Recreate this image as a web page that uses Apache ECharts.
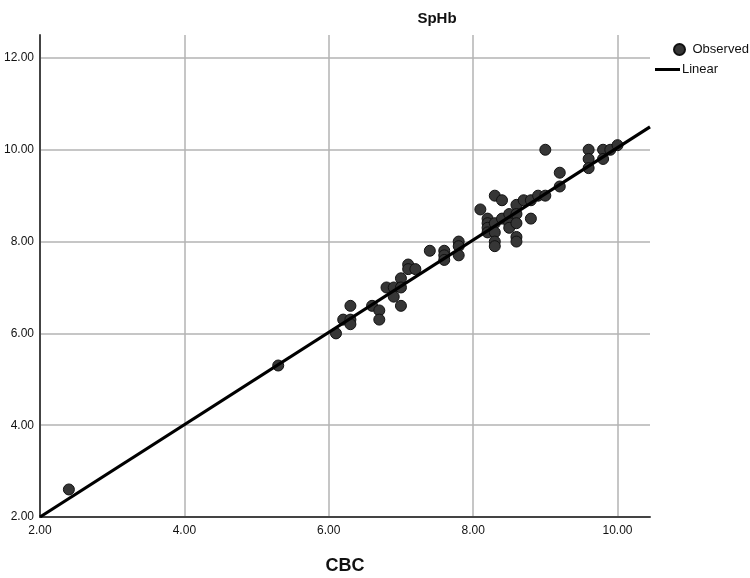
<!DOCTYPE html>
<html>
<head>
<meta charset="utf-8">
<script src="https://cdn.jsdelivr.net/npm/echarts@6/dist/echarts.min.js"></script>
<style>
  html, body { margin: 0; padding: 0; background: #fff; }
  #chart { width: 750px; height: 578px; }
</style>
</head>
<body>
<div id="chart"></div>
<script>
// observed points (CBC vs SpHb)
var cbcValues = [2.4, 5.3, 6.1, 6.2, 6.3, 6.3, 6.3, 6.6, 6.7, 6.7, 6.8, 6.9, 6.9, 7.0, 7.0, 7.0,
  7.1, 7.1, 7.2, 7.4, 7.6, 7.6, 7.6, 7.8, 7.8, 7.8, 8.1, 8.2, 8.2, 8.2, 8.2, 8.3, 8.3, 8.3, 8.3, 8.3,
  8.4, 8.4, 8.5, 8.5, 8.5, 8.6, 8.6, 8.6, 8.6, 8.6, 8.7, 8.8, 8.8, 8.9, 9.0, 9.0, 9.2, 9.2,
  9.6, 9.6, 9.6, 9.8, 9.8, 9.9, 10.0];
var sphbValues = [2.6, 5.3, 6.0, 6.3, 6.6, 6.3, 6.2, 6.6, 6.5, 6.3, 7.0, 7.0, 6.8, 7.2, 7.0, 6.6,
  7.5, 7.4, 7.4, 7.8, 7.8, 7.7, 7.6, 8.0, 7.9, 7.7, 8.7, 8.5, 8.4, 8.3, 8.2, 9.0, 8.4, 8.2, 8.0, 7.9,
  8.9, 8.5, 8.6, 8.4, 8.3, 8.8, 8.6, 8.4, 8.1, 8.0, 8.9, 8.9, 8.5, 9.0, 10.0, 9.0, 9.5, 9.2,
  10.0, 9.8, 9.6, 10.0, 9.8, 10.0, 10.1];
// linear fit line end points
var fitX = [2.0, 10.45];
var fitY = [2.0, 10.5];

var font = "'Liberation Sans Narrow', 'Liberation Sans', Arial, sans-serif";

var observed = [];
for (var i = 0; i < cbcValues.length; i++) {
  observed.push([cbcValues[i], sphbValues[i]]);
}
var fitLine = [];
for (var j = 0; j < fitX.length; j++) {
  fitLine.push([fitX[j], fitY[j]]);
}

var myChart = echarts.init(document.getElementById("chart"));
var option = {
  backgroundColor: "#fff",
  animation: false,
  title: {
    text: "SpHb",
    left: 432,
    top: 6,
    textAlign: "center",
    textStyle: { fontFamily: font, fontSize: 15, fontWeight: "bold", color: "#111" }
  },
  legend: [
    {
      data: [{ name: "Observed", icon: "circle" }],
      left: 668,
      top: 38,
      itemWidth: 12,
      itemHeight: 11,
      textStyle: { fontFamily: font, fontSize: 13, color: "#111", padding: [0, 0, 0, 2] }
    },
    {
      data: [{ name: "Linear", icon: "rect" }],
      left: 650,
      top: 58,
      itemWidth: 25,
      itemHeight: 3,
      textStyle: { fontFamily: font, fontSize: 13, color: "#111", padding: [0, 0, 0, -3] }
    }
  ],
  grid: { left: 40, right: 100, top: 35, bottom: 61, containLabel: false, outerBoundsMode: "none" },
  xAxis: {
    type: "value",
    min: 2,
    max: 10.45,
    interval: 2,
    name: "CBC",
    nameLocation: "middle",
    nameGap: 40,
    nameTextStyle: { fontFamily: font, fontSize: 18, fontWeight: "bold", color: "#111" },
    axisLine: { show: true, onZero: false, lineStyle: { color: "#444", width: 2 } },
    axisTick: { show: false },
    axisLabel: {
      showMaxLabel: false,
      margin: 8,
      fontFamily: font, fontSize: 12, color: "#111",
      formatter: function (v) { return v.toFixed(2); }
    },
    splitLine: { show: true, showMinLine: false, showMaxLine: false, lineStyle: { color: "#b3b3b3", width: 1.5 } }
  },
  yAxis: {
    type: "value",
    min: 2,
    max: 12.5,
    interval: 2,
    axisLine: { show: true, onZero: false, lineStyle: { color: "#444", width: 2 } },
    axisTick: { show: false },
    axisLabel: {
      showMaxLabel: false,
      margin: 6,
      fontFamily: font, fontSize: 12, color: "#111",
      formatter: function (v) { return v.toFixed(2); }
    },
    splitLine: { show: true, showMinLine: false, showMaxLine: false, lineStyle: { color: "#b3b3b3", width: 1.5 } }
  },
  series: [
    {
      name: "Observed",
      type: "scatter",
      data: observed,
      symbol: "circle",
      symbolSize: 11,
      itemStyle: { color: "#363636", borderColor: "#111", borderWidth: 1, opacity: 1 },
      z: 3
    },
    {
      name: "Linear",
      type: "line",
      data: fitLine,
      symbol: "none",
      lineStyle: { color: "#000", width: 3.2 },
      itemStyle: { color: "#000" },
      z: 4
    }
  ]
};
myChart.setOption(option);
</script>
</body>
</html>
